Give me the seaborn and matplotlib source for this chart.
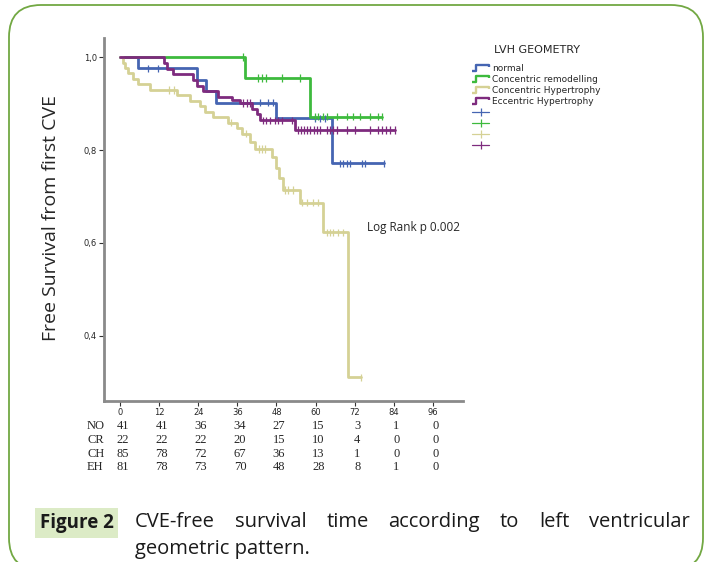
import numpy as np
import pandas as pd
import matplotlib
matplotlib.use("Agg")
import matplotlib.pyplot as plt
import seaborn as sns
from matplotlib.lines import Line2D
from matplotlib.path import Path
from matplotlib.patches import FancyBboxPatch, Rectangle
from matplotlib.transforms import IdentityTransform

# ---------------- data ----------------
groups = ["normal", "Concentric remodelling", "Concentric Hypertrophy", "Eccentric Hypertrophy"]
abbrev = ["NO", "CR", "CH", "EH"]
colors = ["#4565b2", "#3dba3d", "#d5d195", "#7e2b7e"]

# Kaplan-Meier step curves (time in months, survival after each step)
no_times = [0, 5.4, 23.5, 26.4, 29.4, 48.0, 65.0, 81.0]
no_surv = [1.0, 0.976, 0.951, 0.927, 0.902, 0.868, 0.771, 0.771]
cr_times = [0, 38.3, 58.3, 80.4]
cr_surv = [1.0, 0.955, 0.872, 0.872]
ch_times = [0, 0.9, 1.5, 2.5, 4.0, 5.5, 9.2, 17.4, 21.5, 24.5, 26.1, 28.5, 33.0, 35.8,
            37.3, 39.9, 41.4, 46.5, 47.8, 48.8, 50.1, 55.2, 62.2, 70.0, 73.9]
ch_surv = [1.0, 0.988, 0.976, 0.965, 0.953, 0.941, 0.929, 0.918, 0.906, 0.894, 0.882, 0.871,
           0.859, 0.847, 0.835, 0.818, 0.802, 0.786, 0.761, 0.739, 0.714, 0.687, 0.623, 0.311, 0.311]
eh_times = [0, 13.5, 14.3, 16.3, 22.5, 23.5, 25.5, 30.2, 34.3, 36.8, 40.4, 41.9, 42.9, 53.7, 84.4]
eh_surv = [1.0, 0.988, 0.975, 0.963, 0.951, 0.938, 0.926, 0.914, 0.907, 0.901, 0.889, 0.877,
           0.864, 0.843, 0.843]

# censored observation times
no_cens = [8.6, 11.7, 42.9, 45.4, 46.9, 59.8, 61.3, 62.9, 67.5, 68.4, 69.6, 70.6, 74.2, 75.2, 81.0]
cr_cens = [37.6, 42.3, 43.6, 44.8, 49.6, 55.2, 59.8, 60.7, 62.3, 63.5, 66.5, 69.5, 71.5,
           73.6, 76.7, 79.1, 80.4]
ch_cens = [15.0, 16.5, 34.0, 38.5, 42.5, 43.5, 44.5, 50.6, 51.5, 53.0, 55.7, 57.3, 59.2,
           60.7, 63.4, 64.4, 65.3, 66.9, 68.4, 73.9]
eh_cens = [37.7, 38.9, 39.9, 43.9, 44.8, 46.0, 47.5, 48.5, 49.7, 52.7, 54.6, 55.5, 56.4,
           57.4, 58.3, 59.5, 60.4, 61.3, 63.4, 64.4, 65.3, 66.6, 69.5, 72.1, 76.7, 79.1,
           80.4, 81.6, 82.8, 84.4]

# number at risk table
risk_times = [0, 12, 24, 36, 48, 60, 72, 84, 96]
risk_NO = [41, 41, 36, 34, 27, 15, 3, 1, 0]
risk_CR = [22, 22, 22, 20, 15, 10, 4, 0, 0]
risk_CH = [85, 78, 72, 67, 36, 13, 1, 0, 0]
risk_EH = [81, 78, 73, 70, 48, 28, 8, 1, 0]

ytick_vals = [0.4, 0.6, 0.8, 1.0]
ytick_labels = ["0,4", "0,6", "0,8", "1,0"]

ylabel = "Free Survival from first CVE"
legend_title = "LVH GEOMETRY"
logrank_text = "Log Rank p 0.002"
fig_label = "Figure 2"
caption_line1 = "CVE-free survival time according to left ventricular"
caption_line2 = "geometric pattern."

# ---------------- build tables ----------------
curve_sets = [(no_times, no_surv), (cr_times, cr_surv), (ch_times, ch_surv), (eh_times, eh_surv)]
cens_sets = [no_cens, cr_cens, ch_cens, eh_cens]

rows = []
crows = []
for g, (t, s), c in zip(groups, curve_sets, cens_sets):
    for ti, si in zip(t, s):
        rows.append({"group": g, "time": ti, "surv": si})
    t_arr = np.asarray(t)
    s_arr = np.asarray(s)
    for ci in c:
        idx = np.searchsorted(t_arr, ci, side="right") - 1
        crows.append({"group": g, "time": ci, "surv": s_arr[idx]})
curves = pd.DataFrame(rows)
cens = pd.DataFrame(crows)
palette = dict(zip(groups, colors))

# ---------------- figure ----------------
sns.set_style("white")
plt.rcParams["font.family"] = ["DejaVu Sans"]

W, H = 704, 562
fig = plt.figure(figsize=(W / 100, H / 100), dpi=100)
fig.patch.set_facecolor("white")

# rounded green frame
frame = FancyBboxPatch((9, -8), 694, 565, boxstyle="round,pad=0,rounding_size=32",
                       transform=IdentityTransform(), facecolor="none",
                       edgecolor="#72a843", linewidth=1.3, zorder=0)
fig.patches.append(frame)

ax = fig.add_axes([104 / W, 1 - 401 / H, (463 - 104) / W, (401 - 38) / H])
ax.set_facecolor("none")

sns.lineplot(data=curves, x="time", y="surv", hue="group", hue_order=groups,
             palette=palette, drawstyle="steps-post", estimator=None, sort=False,
             linewidth=2.0, legend=False, ax=ax)
sns.scatterplot(data=cens, x="time", y="surv", hue="group", hue_order=groups,
                palette=palette, marker="|", s=28, linewidth=0.9, legend=False,
                ax=ax, zorder=3)

ax.set_xlim(-4.9, 105.2)
ax.set_ylim(0.26, 1.041)
for sp in ["top", "right"]:
    ax.spines[sp].set_visible(False)
for sp in ["left", "bottom"]:
    ax.spines[sp].set_color("#8a8a8a")
    ax.spines[sp].set_linewidth(2.0)

ax.set_xticks(risk_times)
ax.set_xticklabels([str(v) for v in risk_times])
ax.set_yticks(ytick_vals)
ax.set_yticklabels(ytick_labels)
ax.tick_params(axis="both", which="major", direction="out", length=3.5, width=0.8,
               color="#333333", labelsize=6, pad=1.5, left=True, bottom=True)
ax.set_xlabel("")
ax.set_ylabel(ylabel, fontsize=14, family=["Open Sans", "DejaVu Sans"])
ax.yaxis.set_label_coords(-0.123, 0.505)

ax.text(75.8, 0.634, logrank_text, fontsize=8.5, family=["Open Sans", "DejaVu Sans"],
        ha="left", va="center")

# number at risk table
risk_rows = [risk_NO, risk_CR, risk_CH, risk_EH]
row_y_px = [426, 440, 454, 467]
for ab, vals, ypx in zip(abbrev, risk_rows, row_y_px):
    ya = (401 - ypx) / (401 - 38)
    ax.text((87 - 104) / (463 - 104), ya, ab, transform=ax.transAxes, ha="left",
            va="center", fontsize=9, family=["Liberation Serif"], clip_on=False)
    for t, v in zip(risk_times, vals):
        ax.text(t + 0.8, ya, str(v), transform=ax.get_xaxis_transform(), ha="center",
                va="center", fontsize=9, family=["Liberation Serif"], clip_on=False)

# legend
step_path = Path([(-1.0, -0.3), (-0.55, -0.3), (-0.55, 0.3), (0.9, 0.3), (0.9, 0.15)],
                 [Path.MOVETO, Path.LINETO, Path.LINETO, Path.LINETO, Path.LINETO])
handles = []
labels = []
for g, c in zip(groups, colors):
    handles.append(Line2D([], [], linestyle="none", marker=step_path, markersize=13,
                          markerfacecolor="none", markeredgecolor=c, markeredgewidth=1.7))
    labels.append(g)
for g, c in zip(groups, colors):
    handles.append(Line2D([], [], color=c, linewidth=0.9, marker="|", markersize=6,
                          markeredgewidth=0.9))
    labels.append("")
leg = fig.legend(handles, labels, loc="upper left", bbox_to_anchor=(472 / W, 1 - 64 / H),
                 frameon=False, fontsize=6.5,
                 handlelength=1.9, handletextpad=0.35, labelspacing=0.22, borderpad=0,
                 borderaxespad=0)
fig.text(536.5 / W, 1 - 50 / H, legend_title, fontsize=8, ha="center", va="center")

# caption
fig.patches.append(Rectangle((35, H - 538), 83, 30, transform=IdentityTransform(),
                             facecolor="#dcebc6", edgecolor="none", zorder=1))
fig.text(76.5 / W, 1 - 523 / H, fig_label, fontsize=13.5, fontweight="bold",
         family=["Open Sans", "DejaVu Sans"], ha="center", va="center", color="#1a1a1a")

fig.canvas.draw()
renderer = fig.canvas.get_renderer()
words = caption_line1.split()
wtexts = [fig.text(0, 1 - 522 / H, w, fontsize=14.5, family=["Open Sans", "DejaVu Sans"],
                   ha="left", va="center", color="#1a1a1a") for w in words]
widths = [t.get_window_extent(renderer).width for t in wtexts]
x0, x1 = 135, 690
gap = (x1 - x0 - sum(widths)) / (len(words) - 1)
xpos = x0
for t, w in zip(wtexts, widths):
    t.set_x(xpos / W)
    xpos += w + gap
fig.text(x0 / W, 1 - 549 / H, caption_line2, fontsize=14.5,
         family=["Open Sans", "DejaVu Sans"], ha="left", va="center", color="#1a1a1a")

fig.savefig("out.png", dpi=100, facecolor="white")
